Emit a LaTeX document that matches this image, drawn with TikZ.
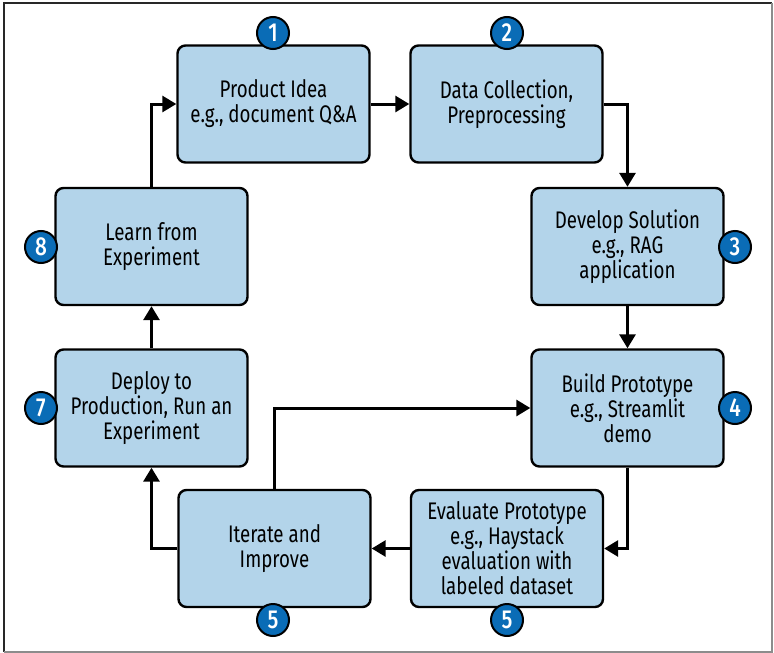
\documentclass[tikz,border=0pt]{standalone}
\usepackage{fontspec}
\setmainfont[FakeStretch=0.78]{Fira Sans}
\newfontfamily\badgefont[FakeStretch=0.8]{Fira Sans Medium}
\usetikzlibrary{arrows.meta}
\definecolor{boxfill}{RGB}{179,212,234}
\definecolor{badgefill}{RGB}{10,108,182}
\definecolor{framedark}{RGB}{40,40,40}
\definecolor{framelight}{RGB}{140,140,140}
\tikzset{
  stepbox/.style={draw=black, line width=2.4pt, fill=boxfill, rounded corners=8pt,
    minimum width=192pt, minimum height=117pt, inner sep=0pt,
    align=center, font=\fontsize{24}{25}\selectfont},
  badge/.style={circle, draw=black, line width=2pt, fill=badgefill, text=white,
    minimum size=32pt, inner sep=0pt, font=\badgefont\fontsize{26}{26}\selectfont},
  flow/.style={draw=black, line width=3pt,
    -{Triangle[length=14pt, width=16pt]}},
}
\begin{document}
\begin{tikzpicture}[x=1pt, y=-1pt]
  \useasboundingbox (0,0) rectangle (774,653);
  % outer frame
  \draw[framedark, line width=1.6pt] (4,652) -- (4,3) -- (772,3);
  \draw[framelight, line width=1.6pt] (772,3) -- (772,652) -- (4,652);

  % process steps
  \node[stepbox] (idea)    at (273.5,104)   {Product Idea\\e.g., document Q\&A};
  \node[stepbox] (data)    at (506.5,104)   {Data Collection,\\Preprocessing};
  \node[stepbox] (develop) at (627.5,246.5) {Develop Solution\\e.g., RAG\\application};
  \node[stepbox] (build)   at (627.5,408)   {Build Prototype\\e.g., Streamlit\\demo};
  \node[stepbox] (eval)    at (507,548.5)   {Evaluate Prototype\\e.g., Haystack\\evaluation with\\labeled dataset};
  \node[stepbox] (iterate) at (274.5,548.5) {Iterate and\\Improve};
  \node[stepbox] (deploy)  at (151.5,408)   {Deploy to\\Production, Run an\\Experiment};
  \node[stepbox] (learn)   at (151.5,246.5) {Learn from\\Experiment};

  % connectors
  \draw[flow] (learn.north) |- (idea.west);
  \draw[flow] (idea.east) -- (data.west);
  \draw[flow] (data.east) -| (develop.north);
  \draw[flow] (develop.south) -- (build.north);
  \draw[flow] (build.south) |- (eval.east);
  \draw[flow] (eval.west) -- (iterate.east);
  \draw[flow] (iterate.west) -| (deploy.south);
  \draw[flow] (deploy.north) -- (learn.south);
  \draw[flow] (iterate.north) |- (build.west);

  % step numbers
  \node[badge] (n1) at (273,33)    {1};
  \node[badge] (n2) at (507,33)    {2};
  \node[badge] (n3) at (735,247)   {3};
  \node[badge] (n4) at (735,408)   {4};
  \node[badge] (n5a) at (507,620)  {5};
  \node[badge] (n5b) at (273,620)  {5};
  \node[badge] (n7) at (41,408)    {7};
  \node[badge] (n8) at (41,247)    {8};
\end{tikzpicture}
\end{document}
